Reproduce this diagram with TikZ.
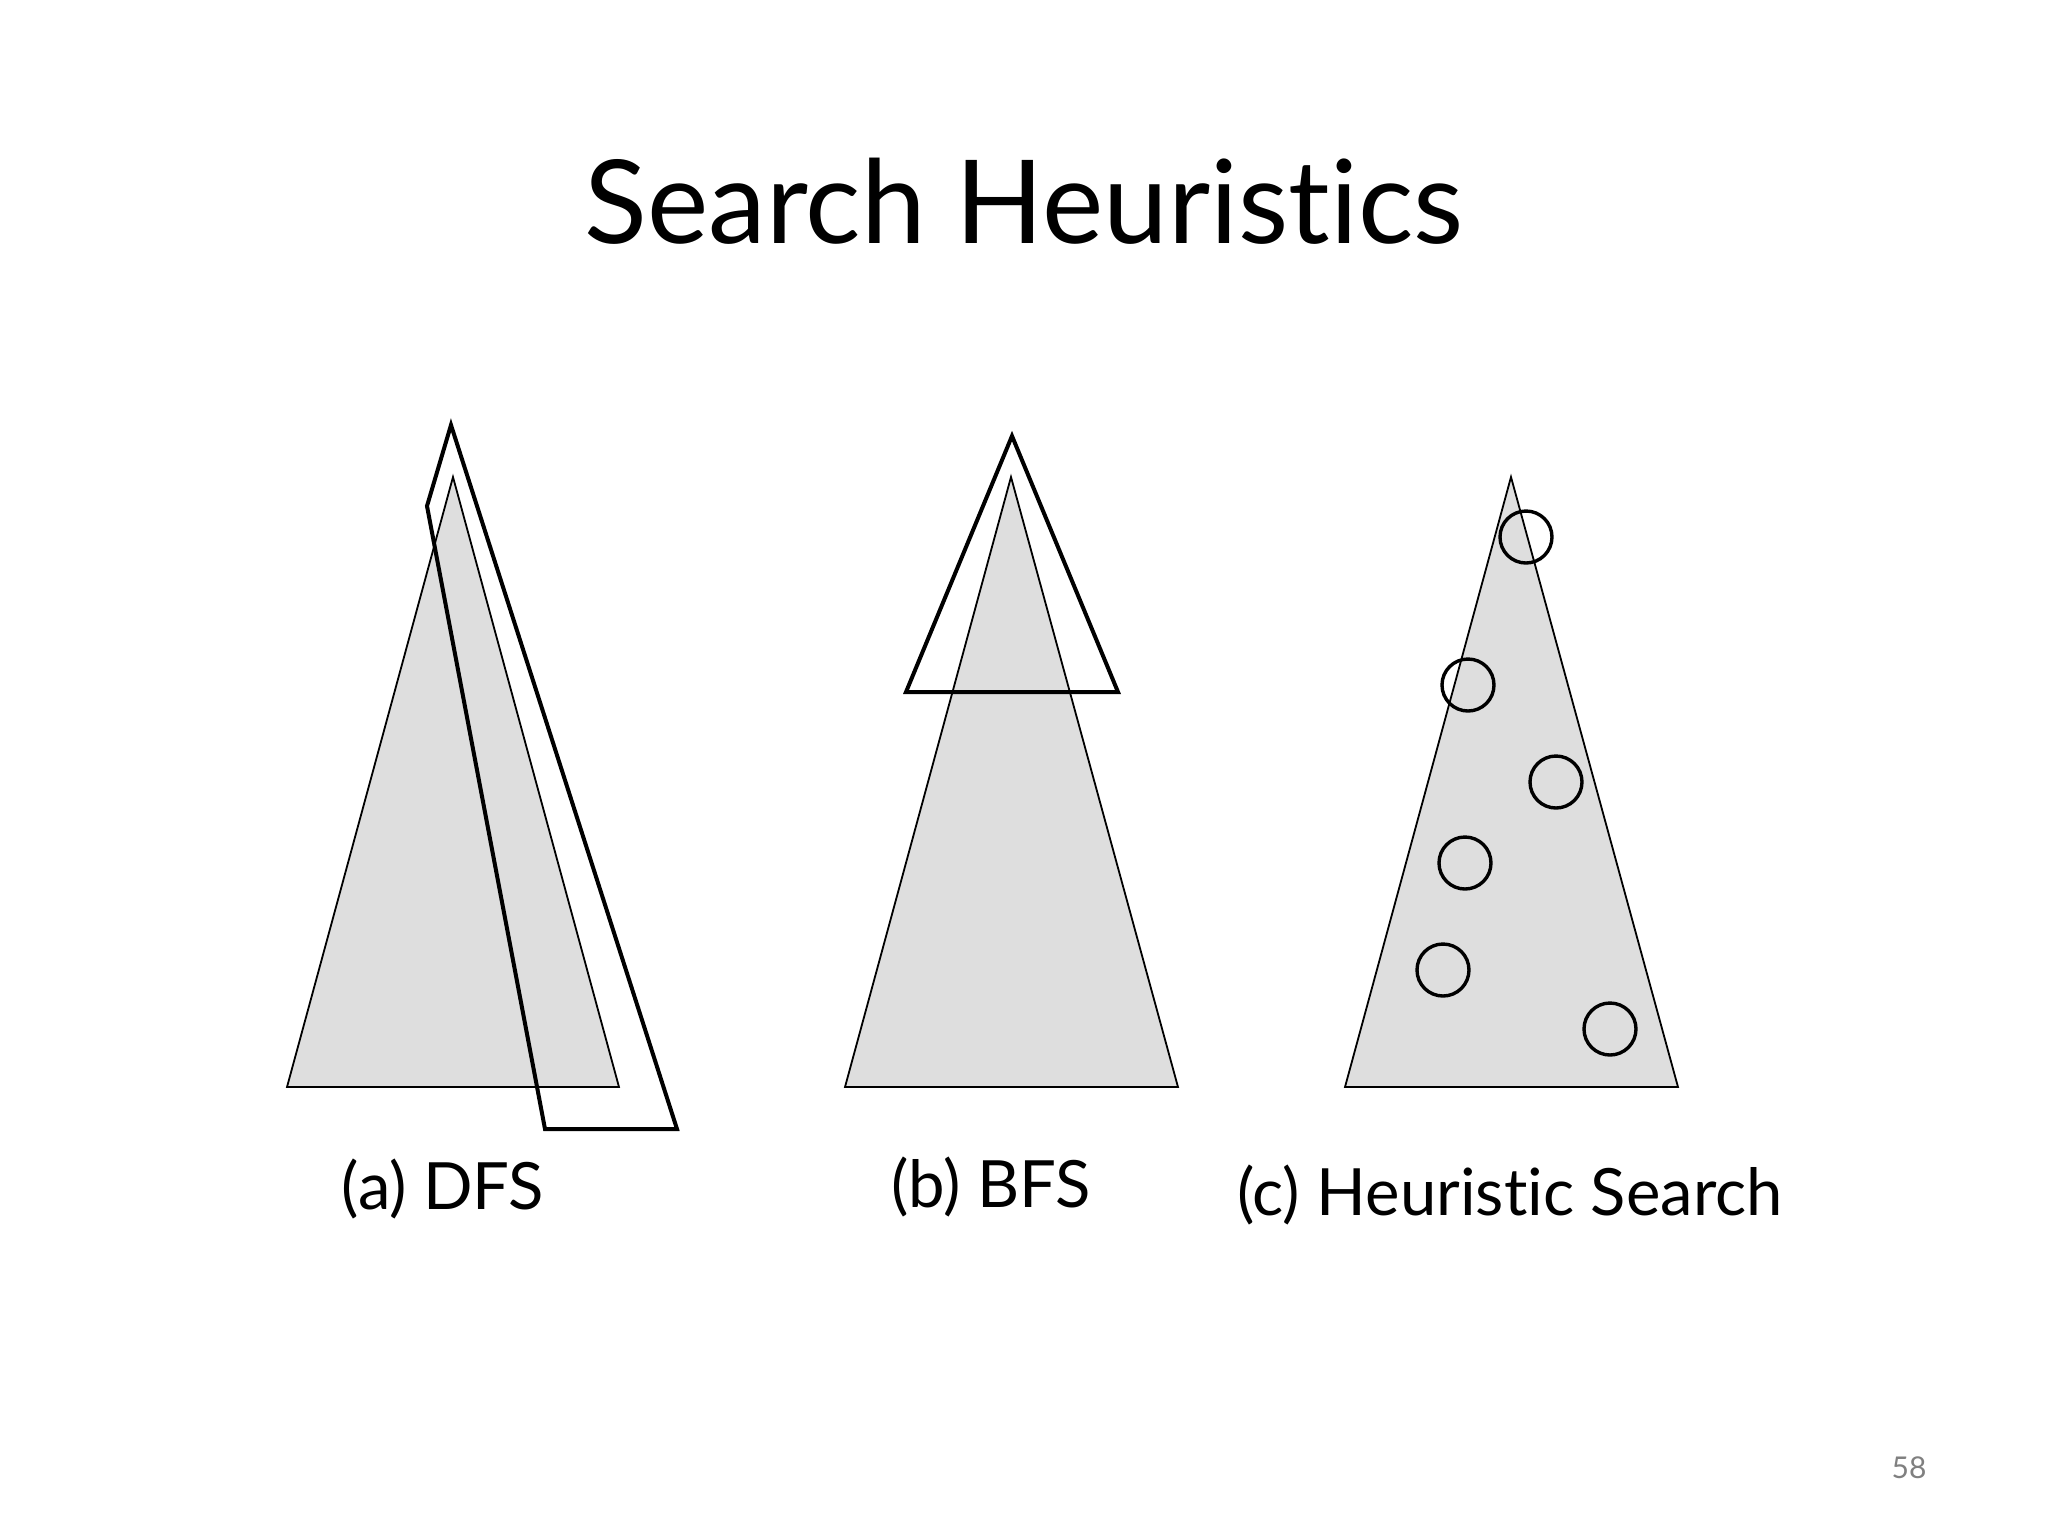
\documentclass[tikz,border=0pt]{standalone}
\usepackage{fontspec}
\setmainfont{Lato}[Ligatures={NoCommon}]
\usepackage{xcolor}
\usepackage{tikz}
\usetikzlibrary{positioning}

\definecolor{treegray}{HTML}{DEDEDE}
\definecolor{pagegray}{HTML}{808080}

\begin{document}
\begin{tikzpicture}[x=0.25pt, y=-0.25pt,
            tree/.style={fill=treegray, draw=black, line width=0.45pt, line join=miter},
            frontier/.style={draw=black, line width=1pt, line join=miter},
            visit/.style={circle, draw=black, line width=0.85pt, minimum size=13pt, inner sep=0pt},
            heading/.style={anchor=base, font=\fontsize{29}{35}\selectfont},
            caption/.style={anchor=base, font=\fontsize{16.3}{19}\selectfont}
        ]

        \useasboundingbox[fill=white] (0,0) rectangle (2048,1536);

        % Title
        \node[heading] (title) at (1024,243) {Search Heuristics};

        % (a) DFS
        \coordinate (dfsTop) at (453,477);
        \coordinate (dfsL) at (287,1087);
        \coordinate (dfsR) at (619,1087);
        \draw[tree] (dfsTop) -- (dfsL) -- (dfsR) -- cycle;
        \draw[frontier] (451,425) -- (427,506) -- (545,1129) -- (677,1129) -- cycle;
        \node[caption] (dfs) at (443,1209) {(a) DFS};

        % (b) BFS
        \coordinate (bfsTop) at (1011,477);
        \coordinate (bfsL) at (845,1087);
        \coordinate (bfsR) at (1178,1087);
        \draw[tree] (bfsTop) -- (bfsL) -- (bfsR) -- cycle;
        \draw[frontier] (1012,436) -- (906,692) -- (1118,692) -- cycle;
        \node[caption] (bfs) at (991,1207) {(b) BFS};

        % (c) Heuristic Search
        \coordinate (hsTop) at (1511,477);
        \coordinate (hsL) at (1345,1087);
        \coordinate (hsR) at (1678,1087);
        \draw[tree] (hsTop) -- (hsL) -- (hsR) -- cycle;
        \node[visit] (c1) at (1526,537) {};
        \node[visit] (c2) at (1468,685) {};
        \node[visit] (c3) at (1556,782) {};
        \node[visit] (c4) at (1465,863) {};
        \node[visit] (c5) at (1443,970) {};
        \node[visit] (c6) at (1610,1029) {};
        \node[caption] (hs) at (1510,1215) {(c) Heuristic Search};

        % Page number
        \node[anchor=base, text=pagegray, font=\fontsize{7.5}{9}\selectfont] (page) at (1909,1478) {58};

    \end{tikzpicture}
\end{document}
